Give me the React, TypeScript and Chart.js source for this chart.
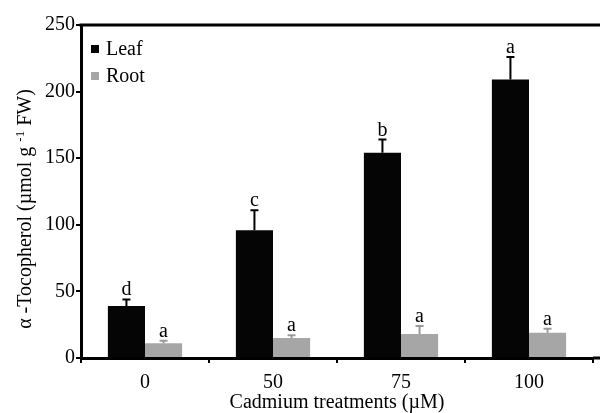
import React, { useEffect, useRef } from "react";
import { Chart, registerables } from "chart.js";

Chart.register(...registerables);

const categories = ["0", "50", "75", "100"];
const leafValues = [39, 96, 154, 209];
const leafErrors = [5, 15, 10, 17];
const rootValues = [11, 15, 18, 19];
const rootErrors = [2, 2, 6, 3];
const leafLetters = ["d", "c", "b", "a"];
const rootLetters = ["a", "a", "a", "a"];
const yTicks = [0, 50, 100, 150, 200, 250];

const FONT = "'Liberation Serif', 'Times New Roman', serif";
const LEAF_COLOR = "#050505";
const ROOT_COLOR = "#a6a6a6";

const errorsByDataset = [leafErrors, rootErrors];
const lettersByDataset = [leafLetters, rootLetters];

const extrasPlugin = {
  id: "extras",
  afterDatasetsDraw(chart: any) {
    const ctx = chart.ctx;
    const yScale = chart.scales.y;
    chart.data.datasets.forEach((ds: any, di: number) => {
      const meta = chart.getDatasetMeta(di);
      const errs = errorsByDataset[di];
      const letters = lettersByDataset[di];
      meta.data.forEach((bar: any, i: number) => {
        const v = ds.data[i];
        const top = yScale.getPixelForValue(v);
        const errY = yScale.getPixelForValue(v + errs[i]);
        ctx.save();
        ctx.strokeStyle = di === 0 ? "#000" : "#9a9a9a";
        ctx.lineWidth = 2;
        ctx.beginPath();
        ctx.moveTo(bar.x, top);
        ctx.lineTo(bar.x, errY);
        ctx.moveTo(bar.x - 4, errY);
        ctx.lineTo(bar.x + 4, errY);
        ctx.stroke();
        ctx.fillStyle = "#000";
        ctx.font = `20px ${FONT}`;
        ctx.textAlign = "center";
        ctx.textBaseline = "alphabetic";
        ctx.fillText(letters[i], bar.x, errY - 4);
        ctx.restore();
      });
    });
  },
  afterDraw(chart: any) {
    const ctx = chart.ctx;
    const area = chart.chartArea;
    ctx.save();
    // top border and extension of x axis to the right edge
    ctx.strokeStyle = "#000";
    ctx.lineWidth = 3;
    ctx.beginPath();
    ctx.moveTo(area.left - 1.5, area.top);
    ctx.lineTo(chart.width, area.top);
    ctx.moveTo(area.right, area.bottom);
    ctx.lineTo(chart.width, area.bottom);
    ctx.stroke();

    // legend
    ctx.font = `20px ${FONT}`;
    ctx.textBaseline = "middle";
    ctx.textAlign = "left";
    chart.data.datasets.forEach((ds: any, di: number) => {
      const cy = 49 + di * 27;
      ctx.fillStyle = ds.backgroundColor;
      ctx.fillRect(91, cy - 4, 8, 8);
      ctx.fillStyle = "#000";
      ctx.fillText(ds.label, 106, cy + 1);
    });

    // y axis title with superscript
    ctx.translate(24, 209);
    ctx.rotate(-Math.PI / 2);
    const main1 = "α -Tocopherol (µmol g ";
    const sup = "-1";
    const main2 = " FW)";
    const mainFont = `20px ${FONT}`;
    const supFont = `13px ${FONT}`;
    ctx.font = mainFont;
    const w1 = ctx.measureText(main1).width;
    const w3 = ctx.measureText(main2).width;
    ctx.font = supFont;
    const w2 = ctx.measureText(sup).width;
    const total = w1 + w2 + w3;
    let x = -total / 2;
    ctx.fillStyle = "#000";
    ctx.textBaseline = "alphabetic";
    ctx.font = mainFont;
    ctx.fillText(main1, x, 7);
    x += w1;
    ctx.font = supFont;
    ctx.fillText(sup, x, 0);
    x += w2;
    ctx.font = mainFont;
    ctx.fillText(main2, x, 7);
    ctx.restore();
  },
};

export default function App() {
  const canvasRef = useRef<HTMLCanvasElement | null>(null);

  useEffect(() => {
    if (!canvasRef.current) return;
    const chart = new Chart(canvasRef.current, {
      type: "bar",
      data: {
        labels: categories,
        datasets: [
          {
            label: "Leaf",
            data: leafValues,
            backgroundColor: LEAF_COLOR,
            categoryPercentage: 0.58,
            barPercentage: 1.0,
          },
          {
            label: "Root",
            data: rootValues,
            backgroundColor: ROOT_COLOR,
            categoryPercentage: 0.58,
            barPercentage: 1.0,
          },
        ],
      },
      options: {
        responsive: false,
        animation: false,
        layout: { padding: { top: 25, right: 7, left: 0, bottom: 0 } },
        plugins: {
          legend: { display: false },
          tooltip: { enabled: false },
          title: { display: false },
        },
        scales: {
          x: {
            offset: true,
            grid: {
              offset: true,
              drawOnChartArea: false,
              drawTicks: true,
              tickLength: 5,
              color: "#000",
              lineWidth: 2,
            },
            border: { display: true, color: "#000", width: 3 },
            ticks: {
              color: "#000",
              font: { family: FONT, size: 20 },
              padding: 8,
              maxRotation: 0,
            },
            title: {
              display: true,
              text: "Cadmium treatments (µM)",
              color: "#000",
              font: { family: FONT, size: 20, lineHeight: 1 },
              padding: { top: 0, bottom: 0 },
            },
            afterFit(scale: any) {
              scale.height = 55;
            },
          },
          y: {
            min: 0,
            max: 250,
            afterBuildTicks(scale: any) {
              scale.ticks = yTicks.map((v) => ({ value: v }));
            },
            grid: {
              drawOnChartArea: false,
              drawTicks: true,
              tickLength: 5,
              color: "#000",
              lineWidth: 2,
            },
            border: { display: true, color: "#000", width: 3 },
            ticks: {
              color: "#000",
              font: { family: FONT, size: 20 },
              padding: 1,
            },
            afterFit(scale: any) {
              scale.width = 81;
            },
          },
        },
      },
      plugins: [extrasPlugin],
    });
    return () => chart.destroy();
  }, []);

  return (
    <div style={{ position: "absolute", left: 0, top: 0, width: 600, height: 413, background: "#fff" }}>
      <canvas ref={canvasRef} width={600} height={413} />
    </div>
  );
}
